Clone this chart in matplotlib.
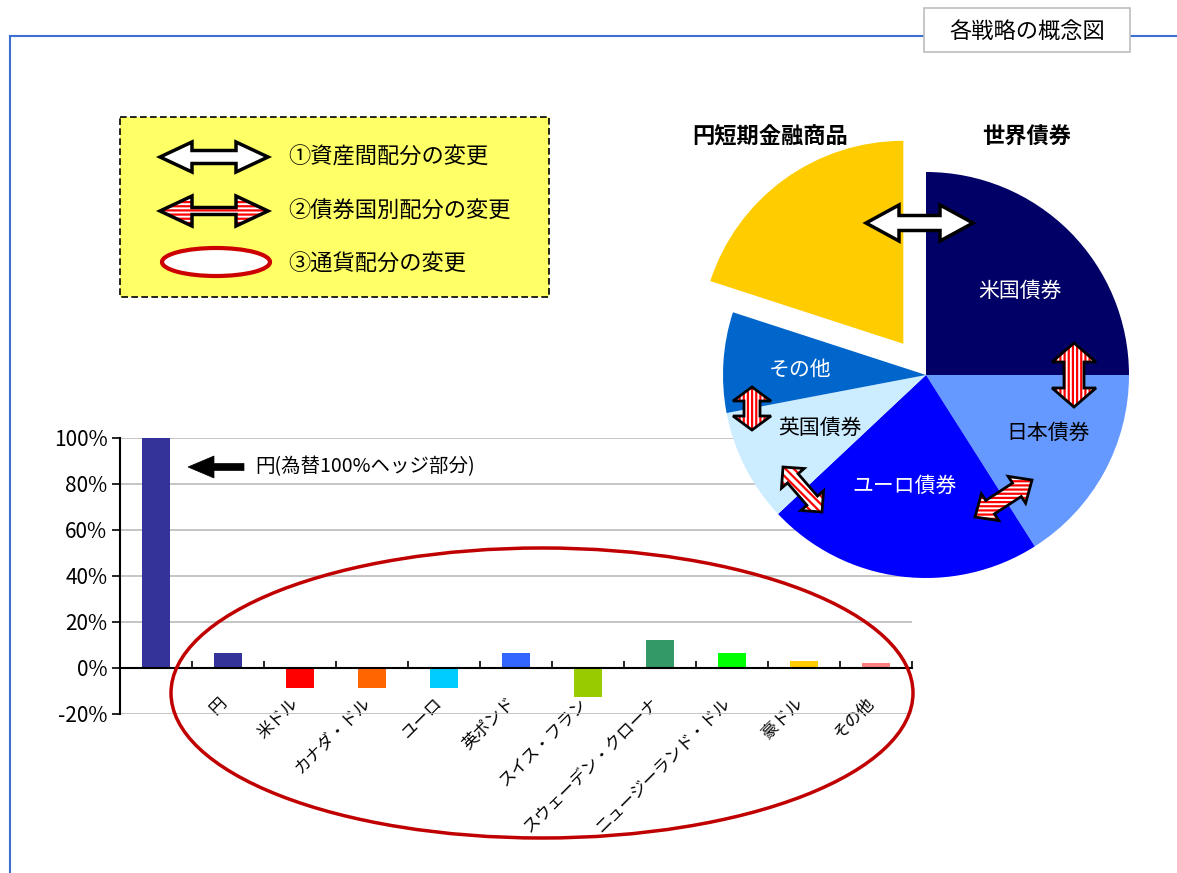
import matplotlib
matplotlib.use("Agg")
import matplotlib.pyplot as plt
from matplotlib.patches import Polygon, Rectangle, Ellipse
from matplotlib.ticker import FuncFormatter
from matplotlib.transforms import ScaledTranslation
import numpy as np

plt.rcParams['font.family'] = ['Noto Sans CJK JP', 'DejaVu Sans']
plt.rcParams['hatch.linewidth'] = 1.6

W, H = 1177, 873

# bar chart: currency allocation
hedged_label = "円(為替100%ヘッジ部分)"
hedged_value = 100
currencies = ["円", "米ドル", "カナダ・ドル", "ユーロ", "英ポンド", "スイス・フラン",
              "スウェーデン・クローナ", "ニュージーランド・ドル", "豪ドル", "その他"]
currency_values = [6.5, -8.5, -8.5, -8.5, 6.5, -12.5, 12, 6.5, 3, 2]
currency_colors = ["#333399", "#FF0000", "#FF6600", "#00CCFF", "#3366FF",
                   "#99CC00", "#339966", "#00FF00", "#FFCC00", "#FF8080"]
y_ticks = [-20, 0, 20, 40, 60, 80, 100]

# pie chart: asset allocation (clockwise from 12 o'clock)
pie_labels = ["米国債券", "日本債券", "ユーロ債券", "英国債券", "その他", "円短期金融商品"]
pie_values = [25, 16, 22, 9, 8, 20]
pie_colors = ["#000066", "#6699FF", "#0000FF", "#CCECFF", "#0066CC", "#FFCC00"]
pie_explode = [0, 0, 0, 0, 0, 0.19]

legend_texts = ["①資産間配分の変更", "②債券国別配分の変更", "③通貨配分の変更"]
page_title = "各戦略の概念図"
group_titles = ["円短期金融商品", "世界債券"]


def px_axes(fig, x0, y0, x1, y1):
    # axes from pixel box (top-left origin)
    return fig.add_axes([x0 / W, 1 - y1 / H, (x1 - x0) / W, (y1 - y0) / H])


def block_arrow(ax, p1, p2, sw, hw, hl, hatch=None, both=True, lw=2.0):
    p1 = np.array(p1, float)
    p2 = np.array(p2, float)
    u = (p2 - p1) / np.hypot(*(p2 - p1))
    n = np.array([-u[1], u[0]])
    if both:
        pts = [p1, p1 + hl*u + hw*n, p1 + hl*u + sw*n, p2 - hl*u + sw*n,
               p2 - hl*u + hw*n, p2, p2 - hl*u - hw*n, p2 - hl*u - sw*n,
               p1 + hl*u - sw*n, p1 + hl*u - hw*n]
        face = "white"
    else:
        pts = [p1 + sw*n, p2 - hl*u + sw*n, p2 - hl*u + hw*n, p2,
               p2 - hl*u - hw*n, p2 - hl*u - sw*n, p1 - sw*n]
        face = "black"
    if hatch:
        ax.add_patch(Polygon(pts, facecolor="white", edgecolor="#FF0000",
                             hatch=hatch, lw=0))
    else:
        ax.add_patch(Polygon(pts, facecolor=face, lw=0))
    ax.add_patch(Polygon(pts, fill=False, edgecolor="black", lw=lw,
                         joinstyle="miter"))


fig = plt.figure(figsize=(W / 100, H / 100), dpi=100)
fig.patch.set_facecolor("white")

# ---- bar chart
ax = px_axes(fig, 120, 438, 912, 714)
x = np.arange(1, len(currencies) + 1)
ax.bar(0, hedged_value, width=0.4, color="#333399", zorder=3)
ax.bar(x, currency_values, width=0.4, color=currency_colors, zorder=3)
ax.set_xlim(-0.5, len(currencies) + 0.5)
ax.set_ylim(-20, 100)
ax.set_yticks(y_ticks)
ax.yaxis.set_major_formatter(FuncFormatter(lambda v, p: f"{v:.0f}%"))
ax.yaxis.grid(True, color="#BBBBBB", lw=1.2)
ax.set_axisbelow(True)
for s in ["top", "right"]:
    ax.spines[s].set_visible(False)
ax.spines["bottom"].set_position(("data", 0))
ax.spines["bottom"].set_linewidth(1.5)
ax.spines["bottom"].set_zorder(4)
ax.spines["left"].set_linewidth(1.5)
ax.tick_params(axis="y", direction="out", length=6, width=1.2, labelsize=15, pad=3)
ax.set_xticks(x)
ax.set_xticklabels(currencies, rotation=45, ha="right", va="top",
                   rotation_mode="anchor", fontsize=12)
ax.tick_params(axis="x", which="major", length=0, pad=19)
shift = ScaledTranslation(-10 / 100, 0, fig.dpi_scale_trans)
for lbl in ax.get_xticklabels():
    lbl.set_transform(lbl.get_transform() + shift)
ax.set_xticks(np.arange(0.5, len(currencies) + 0.6, 1), minor=True)
ax.tick_params(axis="x", which="minor", direction="in", length=5, width=1.2)
ax.patch.set_alpha(0)

# ---- pie chart
cx, cy, r = 926, 375, 203
pax = px_axes(fig, cx - 1.25*r, cy - 1.25*r, cx + 1.25*r, cy + 1.25*r)
pax.pie(pie_values, colors=pie_colors, startangle=90, counterclock=False,
        explode=pie_explode, wedgeprops=dict(linewidth=0))
pax.patch.set_alpha(0)

# ---- overlay in pixel coordinates
ov = fig.add_axes([0, 0, 1, 1])
ov.set_xlim(0, W)
ov.set_ylim(H, 0)
ov.axis("off")

blue = "#3D6FD1"
ov.plot([10, 924], [36, 36], color=blue, lw=1.5)
ov.plot([1130, W], [36, 36], color=blue, lw=1.5)
ov.plot([10, 10], [36, H], color=blue, lw=1.5)
ov.add_patch(Rectangle((924, 8), 206, 44, facecolor="white",
                       edgecolor="#BDBDBD", lw=1.2, zorder=3))
ov.text(1027, 31, page_title, ha="center", va="center", fontsize=16, zorder=4)

# legend box
ov.add_patch(Rectangle((120, 117), 429, 180, facecolor="#FFFF66",
                       edgecolor="black", lw=1.2, linestyle=(0, (4, 2))))
block_arrow(ov, (160, 157), (268, 157), 6.5, 15, 32, lw=2.5)
block_arrow(ov, (160, 211), (268, 211), 3.5, 15, 32, hatch="----", lw=2.5)
ov.add_patch(Ellipse((216, 262), 108, 28, facecolor="white",
                     edgecolor="#CC0000", lw=3))
for i, t in enumerate(legend_texts):
    ov.text(288, [157, 211, 264][i], t, ha="left", va="center", fontsize=16)

# currency ellipse
ov.add_patch(Ellipse((542, 693), 742, 290, fill=False, edgecolor="#C00000", lw=2.5))

# hedge annotation
block_arrow(ov, (244, 467), (188, 467), 3.5, 11, 26, both=False, lw=0.5)
ov.text(255, 467, hedged_label, ha="left", va="center", fontsize=14)

# pie labels and titles
ov.text(770, 137, group_titles[0], ha="center", va="center", fontsize=16, weight="bold")
ov.text(1027, 137, group_titles[1], ha="center", va="center", fontsize=16, weight="bold")
label_pos = [(1020, 291, "white"), (1048, 433, "black"), (905, 486, "white"),
             (820, 428, "black"), (800, 370, "white")]
for (lx, ly, c), t in zip(label_pos, pie_labels[:5]):
    ov.text(lx, ly, t, ha="center", va="center", fontsize=15, color=c)

# pie arrows
block_arrow(ov, (866, 223), (973, 223), 7.5, 18, 33, lw=2.5)
block_arrow(ov, (1074, 343), (1074, 407), 10, 22, 19, hatch="||||", lw=2)
block_arrow(ov, (752, 387), (752, 430), 8, 19, 14, hatch="||||", lw=2)
block_arrow(ov, (783, 467), (822, 512), 7, 15, 15, hatch="\\\\\\\\", lw=2)
block_arrow(ov, (975, 517), (1032, 480), 8, 16, 18, hatch="----", lw=2)

fig.savefig("out.png", dpi=100)
